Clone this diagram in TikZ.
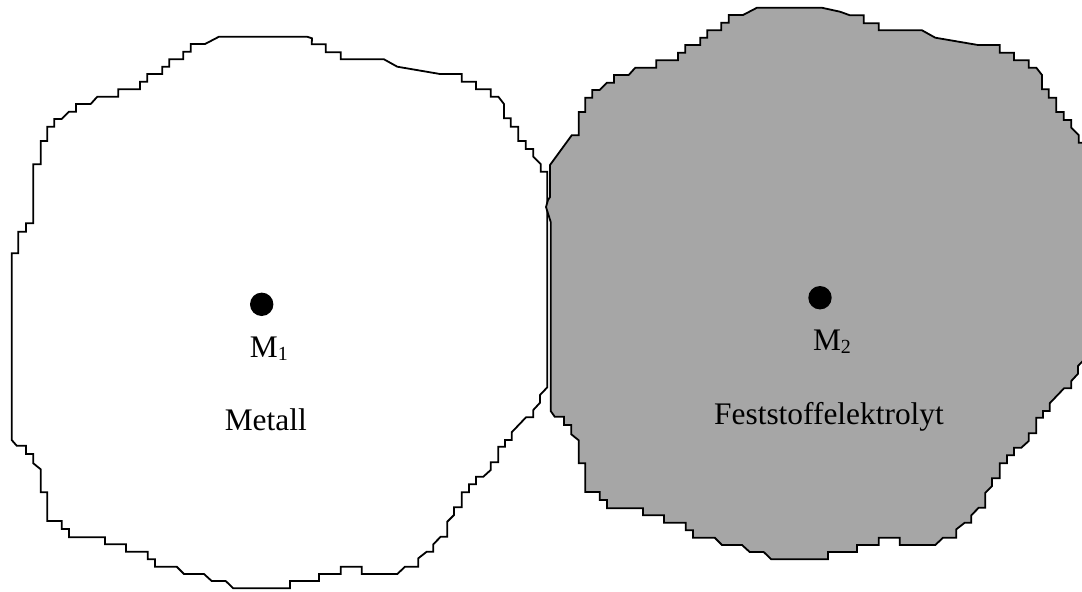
\documentclass[tikz,border=0pt]{standalone}
\usepackage{fontspec}
\setmainfont{Liberation Serif}
\definecolor{grainfill}{RGB}{166,166,166}
\newcommand{\subdigit}[1]{{\fontsize{10pt}{10pt}\selectfont\raisebox{-1.5pt}{#1}}}
\begin{document}
\begin{tikzpicture}[x=0.5pt,y=-0.5pt,
  grain/.style={line width=0.9pt, line join=miter, draw=black},
  centre/.style={circle, fill=black, inner sep=0pt, minimum size=11.7pt},
  label/.style={inner sep=0pt, anchor=base, font=\fontsize{15.7pt}{18pt}\selectfont}]
\useasboundingbox (0,0) rectangle (1082,591);
\clip (0,0) rectangle (1082,591);

% metal grain (left)
\draw[grain, fill=white]
  (219,36.7) -- (307,36.7) -- (312,38.3) -- (311.7,44.3) -- (325.7,44.3) -- (325.7,52.3)
  -- (340.7,52.3) -- (340.7,59.3) -- (384,59.3) -- (397.3,66.7) -- (440,74) -- (461.7,74)
  -- (461.7,81.7) -- (476,81.7) -- (476,89.3) -- (490.7,89.3) -- (490.7,96.7) -- (498.3,96.7)
  -- (504,104) -- (504,118.3) -- (510.7,118.3) -- (510.7,126.7) -- (518.3,126.7) -- (518.3,141)
  -- (525.7,141) -- (525.7,149) -- (533.3,149) -- (533.3,156.7) -- (540.7,164) -- (540.7,171.7)
  -- (547.3,171.7) -- (547.3,387.3)
  -- (540,395) -- (540,402.7) -- (533.3,410) -- (533.3,417.3) -- (526,417.3) -- (511.7,432.3)
  -- (511.7,440) -- (505,440) -- (505,446.7) -- (498.3,446.7) -- (498.3,462.3) -- (490.7,462.3)
  -- (490.7,470) -- (483.3,476.7) -- (476,476.7) -- (476,484.3) -- (469,484.3) -- (469,492.3)
  -- (461.7,492.3) -- (461.7,507.3) -- (454,507.3) -- (454,515) -- (447.3,521.7) -- (447.3,536.7)
  -- (440.7,536.7) -- (433.3,544.3) -- (433.3,551.7) -- (426.7,551.7) -- (418.3,558.3) -- (418.3,566.7)
  -- (405,566.7) -- (397.3,574) -- (361.7,574) -- (361.7,566.7) -- (340.7,566.7) -- (340.7,574)
  -- (319,574) -- (319,581) -- (290,581) -- (290,588.3)
  -- (233.3,588.3) -- (225.7,581) -- (211.7,581) -- (204,574) -- (184,574) -- (176.7,566.7)
  -- (155,566.7) -- (155,559.3) -- (147.7,559.3) -- (147.7,551.7) -- (126,551.7) -- (126,544.3)
  -- (105,544.3) -- (105,537.3) -- (69,537.3) -- (69,529) -- (61.7,529) -- (61.7,521)
  -- (47.3,521) -- (47.3,492.3) -- (40.7,492.3) -- (40.7,469.3) -- (33.3,463.3) -- (33.3,454)
  -- (26,454) -- (26,445.7) -- (16.7,445.7) -- (11.7,440)
  -- (11.7,253.3) -- (18.3,253.3) -- (18.3,231.7) -- (26,231.7) -- (26,223.3) -- (33.3,223.3)
  -- (33.3,164.3) -- (40.7,164.3) -- (40.7,141) -- (47.3,141) -- (47.3,126.7) -- (54.3,126.7)
  -- (54.3,119) -- (61.7,119) -- (69,111.7) -- (76,111.7) -- (76,104) -- (90.7,104)
  -- (97.3,96.7) -- (118.3,96.7) -- (118.3,89.3) -- (140,89.3) -- (140,81.7) -- (147.3,81.7)
  -- (147.3,74) -- (162.3,74) -- (162.3,66.7) -- (169.3,66.7) -- (169.3,59.3) -- (183.3,59.3)
  -- (183.3,51.7) -- (190.7,51.7) -- (190.7,44) -- (205,44) -- cycle;

% solid electrolyte grain (right), same outline shifted, flattened where it meets the metal
\begin{scope}[shift={(538,-29)}]
\draw[grain, fill=grainfill]
  (219,36.7) -- (283.7,36.7) -- (302,40.7) -- (312,44.3) -- (325.7,44.3) -- (325.7,52.3)
  -- (340.7,52.3) -- (340.7,59.3) -- (384,59.3) -- (397.3,66.7) -- (440,74) -- (461.7,74)
  -- (461.7,81.7) -- (476,81.7) -- (476,89.3) -- (490.7,89.3) -- (490.7,96.7) -- (498.3,96.7)
  -- (504,104) -- (504,118.3) -- (510.7,118.3) -- (510.7,126.7) -- (518.3,126.7) -- (518.3,141)
  -- (525.7,141) -- (525.7,149) -- (533.3,149) -- (533.3,156.7) -- (540.7,164) -- (540.7,171.7)
  -- (547.3,171.7) -- (547.3,387.3)
  -- (540,395) -- (540,402.7) -- (533.3,410) -- (533.3,417.3) -- (526,417.3) -- (511.7,432.3)
  -- (511.7,440) -- (505,440) -- (505,446.7) -- (498.3,446.7) -- (498.3,462.3) -- (490.7,462.3)
  -- (490.7,470) -- (483.3,476.7) -- (476,476.7) -- (476,484.3) -- (469,484.3) -- (469,492.3)
  -- (461.7,492.3) -- (461.7,507.3) -- (454,507.3) -- (454,515) -- (447.3,521.7) -- (447.3,536.7)
  -- (440.7,536.7) -- (433.3,544.3) -- (433.3,551.7) -- (426.7,551.7) -- (418.3,558.3) -- (418.3,566.7)
  -- (405,566.7) -- (397.3,574) -- (361.7,574) -- (361.7,566.7) -- (340.7,566.7) -- (340.7,574)
  -- (319,574) -- (319,581) -- (290,581) -- (290,588.3)
  -- (233.3,588.3) -- (225.7,581) -- (211.7,581) -- (204,574) -- (184,574) -- (176.7,566.7)
  -- (155,566.7) -- (155,559.3) -- (147.7,559.3) -- (147.7,551.7) -- (126,551.7) -- (126,544.3)
  -- (105,544.3) -- (105,537.3) -- (69,537.3) -- (69,529) -- (61.7,529) -- (61.7,521)
  -- (47.3,521) -- (47.3,492.3) -- (40.7,492.3) -- (40.7,469.3) -- (33.3,463.3) -- (33.3,454)
  -- (26,454) -- (26,445.7) -- (16.7,445.7) -- (12.7,440)
  -- (12.7,251) -- (8,236) -- (10,229) -- (12,226) -- (12,194) -- (33.7,164.3)
  -- (40.7,164.3) -- (40.7,141) -- (47.3,141) -- (47.3,126.7) -- (54.3,126.7)
  -- (54.3,119) -- (61.7,119) -- (69,111.7) -- (76,111.7) -- (76,104) -- (90.7,104)
  -- (97.3,96.7) -- (118.3,96.7) -- (118.3,89.3) -- (140,89.3) -- (140,81.7) -- (147.3,81.7)
  -- (147.3,74) -- (162.3,74) -- (162.3,66.7) -- (169.3,66.7) -- (169.3,59.3) -- (183.3,59.3)
  -- (183.3,51.7) -- (190.7,51.7) -- (190.7,44) -- (205,44) -- cycle;
\end{scope}

% grain centres and labels
\node[centre] (m1) at (261.7,304.3) {};
\node[centre] (m2) at (820,297.7) {};
\node[label] (m1lab) at (268.8,357.3) {M\subdigit{1}};
\node[label] (m2lab) at (832,350) {M\subdigit{2}};
\node[label] (metal) at (265.8,430.5) {Metall};
\node[label] (fse) at (829,424.5) {Feststoffelektrolyt};
\end{tikzpicture}
\end{document}
